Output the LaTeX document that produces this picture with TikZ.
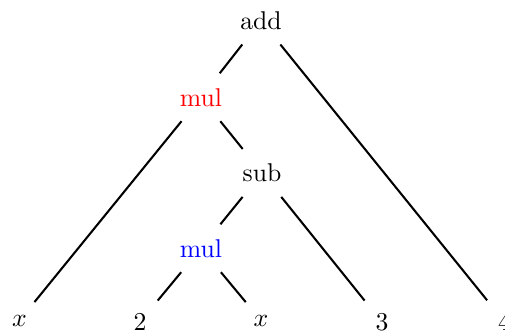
\documentclass[tikz,border=0pt]{standalone}
\begin{document}
\begin{tikzpicture}[x=0.389pt,y=-0.389pt,
  tn/.style={inner sep=5.6pt, anchor=base},
  lf/.style={tn, inner ysep=4.8pt},
  ln/.style={line width=0.8pt}]
\useasboundingbox (0,0) rectangle (505,333);
\node[tn] (add) at (261,29.3) {add};
\node[tn,text=red] (m1) at (201,106) {mul};
\node[tn] (sub) at (262,181.7) {sub};
\node[tn,text=blue] (m2) at (201,257) {mul};
\node[lf] (x1) at (19.5,326) {$x$};
\node[lf] (two) at (140,330.5) {2};
\node[lf] (x2) at (261,326) {$x$};
\node[lf] (three) at (382,330.5) {3};
\node[lf] (four) at (504.5,330.5) {4};
\draw[ln] (add) -- (m1);
\draw[ln] (add) -- (four);
\draw[ln] (m1) -- (x1);
\draw[ln] (m1) -- (sub);
\draw[ln] (sub) -- (m2);
\draw[ln] (sub) -- (three);
\draw[ln] (m2) -- (two);
\draw[ln] (m2) -- (x2);
\end{tikzpicture}
\end{document}
